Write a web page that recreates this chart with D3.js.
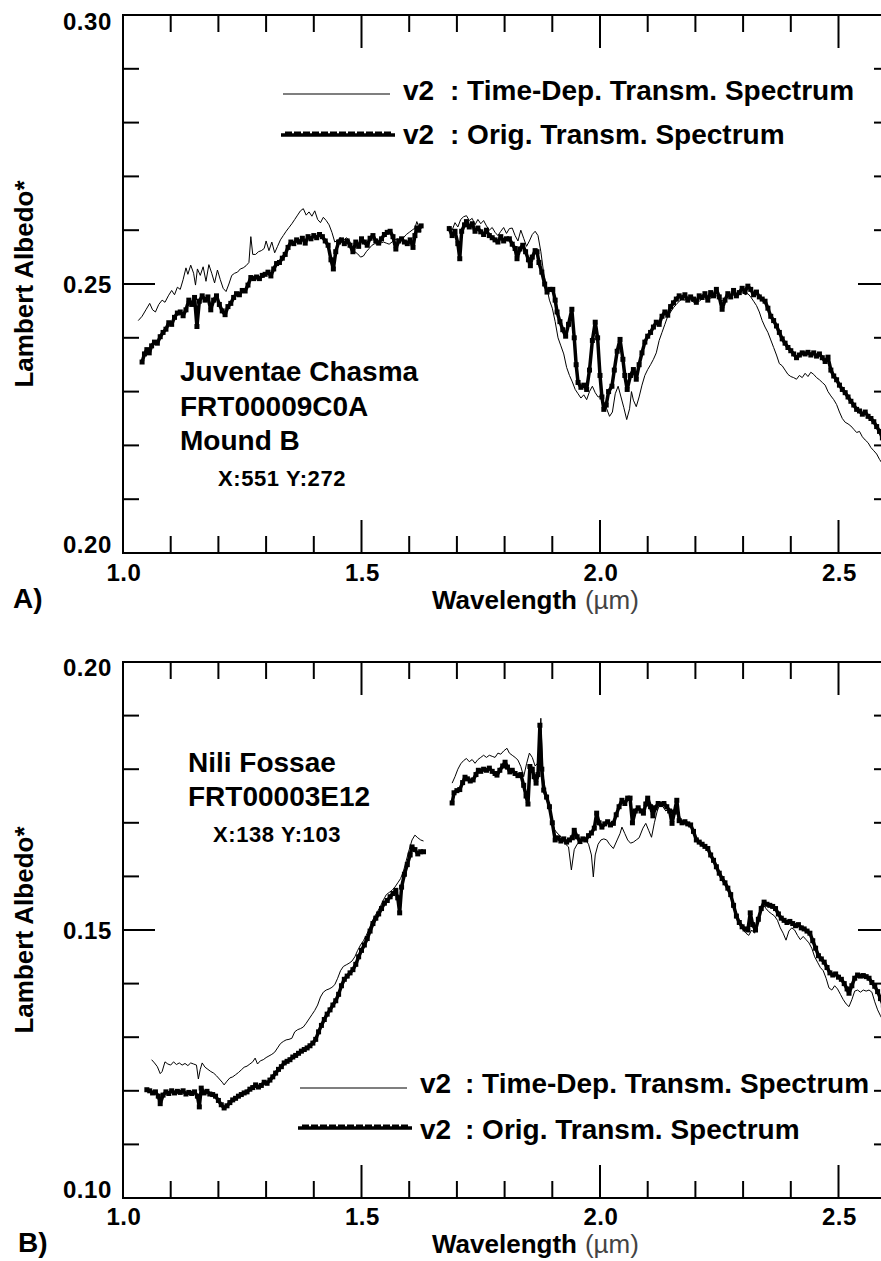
<!DOCTYPE html>
<html>
<head>
<meta charset="utf-8">
<script src="https://cdn.jsdelivr.net/npm/d3@7"></script>
<style>
  html, body { margin: 0; padding: 0; background: #fff; }
  svg { display: block; font-family: "Liberation Sans", Arial, Helvetica, sans-serif; }
  .lbl { font-weight: bold; fill: #000; }
</style>
</head>
<body>
<svg id="chart" width="881" height="1261"></svg>
<script>
// CRISM spectra, two panels. Each series is split at the detector gap (~1.65-1.68 um).
// Values are [wavelength (um), Lambert albedo].

const origA1 = [[1.040,0.2355],[1.045,0.2370],[1.050,0.2378],[1.055,0.2372],[1.060,0.2385],[1.066,0.2392],[1.072,0.2390],[1.078,0.2402],[1.084,0.2410],[1.090,0.2416],[1.096,0.2428],[1.102,0.2425],[1.108,0.2438],[1.114,0.2446],[1.120,0.2448],[1.126,0.2441],[1.132,0.2452],[1.138,0.2470],[1.144,0.2462],[1.150,0.2475],[1.155,0.2421],[1.160,0.2468],[1.166,0.2478],[1.172,0.2470],[1.178,0.2476],[1.184,0.2452],[1.190,0.2470],[1.196,0.2478],[1.202,0.2462],[1.208,0.2450],[1.214,0.2443],[1.220,0.2458],[1.226,0.2464],[1.232,0.2475],[1.238,0.2482],[1.244,0.2480],[1.250,0.2488],[1.256,0.2487],[1.262,0.2498],[1.268,0.2512],[1.274,0.2510],[1.280,0.2513],[1.286,0.2510],[1.292,0.2516],[1.298,0.2518],[1.304,0.2522],[1.310,0.2515],[1.316,0.2528],[1.322,0.2538],[1.328,0.2540],[1.334,0.2548],[1.340,0.2555],[1.346,0.2568],[1.352,0.2578],[1.358,0.2575],[1.364,0.2582],[1.370,0.2578],[1.376,0.2585],[1.382,0.2576],[1.388,0.2588],[1.394,0.2584],[1.400,0.2590],[1.406,0.2586],[1.412,0.2592],[1.418,0.2588],[1.424,0.2580],[1.430,0.2572],[1.436,0.2545],[1.441,0.2528],[1.446,0.2560],[1.452,0.2578],[1.458,0.2582],[1.464,0.2575],[1.470,0.2580],[1.476,0.2572],[1.482,0.2560],[1.488,0.2578],[1.494,0.2570],[1.500,0.2584],[1.506,0.2578],[1.512,0.2572],[1.518,0.2585],[1.524,0.2590],[1.530,0.2580],[1.536,0.2576],[1.542,0.2584],[1.548,0.2592],[1.554,0.2596],[1.560,0.2598],[1.566,0.2588],[1.572,0.2565],[1.578,0.2580],[1.584,0.2584],[1.590,0.2578],[1.596,0.2575],[1.602,0.2582],[1.608,0.2568],[1.612,0.2590],[1.616,0.2604],[1.620,0.2600],[1.625,0.2608]];
const origA2 = [[1.684,0.2603],[1.690,0.2590],[1.696,0.2598],[1.702,0.2575],[1.706,0.2547],[1.710,0.2598],[1.716,0.2610],[1.720,0.2616],[1.726,0.2606],[1.732,0.2612],[1.738,0.2598],[1.744,0.2604],[1.750,0.2597],[1.756,0.2592],[1.762,0.2600],[1.768,0.2590],[1.774,0.2586],[1.780,0.2582],[1.786,0.2578],[1.792,0.2588],[1.798,0.2580],[1.804,0.2584],[1.810,0.2584],[1.816,0.2574],[1.822,0.2566],[1.826,0.2547],[1.832,0.2565],[1.838,0.2572],[1.844,0.2560],[1.850,0.2545],[1.854,0.2534],[1.858,0.2550],[1.864,0.2562],[1.868,0.2560],[1.872,0.2540],[1.878,0.2522],[1.884,0.2500],[1.889,0.2485],[1.895,0.2490],[1.901,0.2490],[1.906,0.2470],[1.910,0.2448],[1.916,0.2430],[1.922,0.2415],[1.928,0.2403],[1.934,0.2425],[1.941,0.2453],[1.946,0.2400],[1.950,0.2350],[1.954,0.2317],[1.960,0.2308],[1.966,0.2312],[1.972,0.2304],[1.978,0.2340],[1.984,0.2395],[1.990,0.2429],[1.995,0.2400],[2.000,0.2330],[2.004,0.2290],[2.008,0.2267],[2.013,0.2275],[2.018,0.2300],[2.025,0.2310],[2.030,0.2340],[2.036,0.2375],[2.042,0.2397],[2.048,0.2360],[2.052,0.2330],[2.057,0.2304],[2.064,0.2330],[2.070,0.2341],[2.076,0.2323],[2.082,0.2350],[2.088,0.2372],[2.094,0.2392],[2.100,0.2403],[2.106,0.2410],[2.112,0.2420],[2.118,0.2429],[2.124,0.2425],[2.130,0.2440],[2.136,0.2448],[2.142,0.2442],[2.148,0.2458],[2.154,0.2465],[2.160,0.2472],[2.166,0.2478],[2.172,0.2474],[2.178,0.2480],[2.184,0.2470],[2.190,0.2476],[2.196,0.2472],[2.202,0.2466],[2.208,0.2478],[2.214,0.2475],[2.220,0.2482],[2.226,0.2470],[2.232,0.2484],[2.238,0.2478],[2.244,0.2490],[2.250,0.2476],[2.256,0.2453],[2.262,0.2470],[2.268,0.2482],[2.274,0.2476],[2.280,0.2488],[2.286,0.2478],[2.292,0.2484],[2.298,0.2492],[2.304,0.2486],[2.310,0.2496],[2.316,0.2490],[2.322,0.2480],[2.328,0.2485],[2.334,0.2476],[2.340,0.2472],[2.346,0.2468],[2.352,0.2455],[2.358,0.2440],[2.364,0.2432],[2.370,0.2422],[2.376,0.2410],[2.382,0.2398],[2.388,0.2390],[2.394,0.2382],[2.400,0.2376],[2.406,0.2370],[2.412,0.2363],[2.418,0.2368],[2.424,0.2372],[2.430,0.2370],[2.436,0.2373],[2.442,0.2368],[2.448,0.2372],[2.454,0.2366],[2.460,0.2370],[2.466,0.2363],[2.472,0.2356],[2.478,0.2364],[2.484,0.2340],[2.490,0.2329],[2.496,0.2322],[2.502,0.2312],[2.508,0.2304],[2.514,0.2298],[2.520,0.2290],[2.526,0.2282],[2.532,0.2275],[2.538,0.2267],[2.544,0.2264],[2.550,0.2258],[2.556,0.2262],[2.562,0.2254],[2.568,0.2250],[2.574,0.2244],[2.580,0.2235],[2.586,0.2226],[2.592,0.2214],[2.598,0.2205]];

const timeDepA1 = [[1.032,0.2432],[1.040,0.2440],[1.048,0.2452],[1.056,0.2464],[1.062,0.2452],[1.068,0.2448],[1.075,0.2462],[1.082,0.2470],[1.088,0.2466],[1.095,0.2478],[1.102,0.2488],[1.108,0.2480],[1.114,0.2494],[1.120,0.2490],[1.126,0.2508],[1.132,0.2530],[1.136,0.2518],[1.142,0.2535],[1.148,0.2520],[1.152,0.2498],[1.156,0.2528],[1.162,0.2516],[1.168,0.2532],[1.174,0.2505],[1.180,0.2536],[1.186,0.2520],[1.192,0.2502],[1.198,0.2526],[1.204,0.2508],[1.210,0.2492],[1.216,0.2486],[1.222,0.2500],[1.228,0.2516],[1.234,0.2520],[1.240,0.2522],[1.246,0.2528],[1.252,0.2530],[1.258,0.2534],[1.264,0.2540],[1.268,0.2588],[1.272,0.2555],[1.278,0.2555],[1.284,0.2560],[1.290,0.2562],[1.296,0.2566],[1.300,0.2580],[1.306,0.2562],[1.312,0.2578],[1.318,0.2558],[1.324,0.2570],[1.330,0.2582],[1.336,0.2590],[1.342,0.2598],[1.348,0.2605],[1.354,0.2612],[1.360,0.2620],[1.366,0.2628],[1.372,0.2636],[1.378,0.2640],[1.384,0.2628],[1.390,0.2634],[1.396,0.2626],[1.402,0.2636],[1.408,0.2620],[1.414,0.2614],[1.420,0.2624],[1.426,0.2618],[1.432,0.2610],[1.438,0.2596],[1.444,0.2578],[1.450,0.2582],[1.456,0.2586],[1.462,0.2580],[1.468,0.2586],[1.474,0.2582],[1.480,0.2570],[1.486,0.2560],[1.492,0.2556],[1.498,0.2550],[1.504,0.2552],[1.510,0.2560],[1.516,0.2566],[1.522,0.2572],[1.528,0.2575],[1.534,0.2574],[1.540,0.2576],[1.546,0.2578],[1.552,0.2576],[1.558,0.2574],[1.564,0.2578],[1.570,0.2582],[1.576,0.2584],[1.582,0.2580],[1.588,0.2586],[1.594,0.2592],[1.600,0.2596],[1.606,0.2600],[1.612,0.2604],[1.616,0.2616],[1.620,0.2606],[1.625,0.2598]];
const timeDepA2 = [[1.684,0.2608],[1.690,0.2600],[1.696,0.2614],[1.702,0.2606],[1.708,0.2620],[1.714,0.2625],[1.720,0.2627],[1.726,0.2618],[1.732,0.2622],[1.738,0.2610],[1.744,0.2620],[1.750,0.2612],[1.756,0.2618],[1.762,0.2608],[1.768,0.2600],[1.774,0.2605],[1.780,0.2596],[1.786,0.2590],[1.792,0.2598],[1.798,0.2605],[1.804,0.2594],[1.810,0.2603],[1.816,0.2604],[1.822,0.2590],[1.828,0.2580],[1.834,0.2600],[1.840,0.2585],[1.846,0.2570],[1.852,0.2580],[1.858,0.2592],[1.864,0.2598],[1.870,0.2590],[1.876,0.2560],[1.882,0.2520],[1.888,0.2495],[1.894,0.2470],[1.900,0.2455],[1.906,0.2430],[1.912,0.2400],[1.918,0.2385],[1.924,0.2370],[1.930,0.2345],[1.936,0.2330],[1.942,0.2318],[1.948,0.2304],[1.954,0.2296],[1.960,0.2288],[1.966,0.2294],[1.972,0.2285],[1.978,0.2300],[1.984,0.2310],[1.990,0.2298],[1.996,0.2290],[2.002,0.2291],[2.008,0.2280],[2.014,0.2268],[2.020,0.2254],[2.026,0.2262],[2.032,0.2296],[2.038,0.2310],[2.044,0.2290],[2.050,0.2270],[2.056,0.2248],[2.062,0.2268],[2.066,0.2300],[2.070,0.2284],[2.076,0.2272],[2.082,0.2290],[2.088,0.2312],[2.094,0.2330],[2.100,0.2341],[2.106,0.2350],[2.112,0.2360],[2.118,0.2372],[2.124,0.2395],[2.130,0.2410],[2.136,0.2425],[2.142,0.2440],[2.148,0.2448],[2.154,0.2456],[2.160,0.2462],[2.166,0.2468],[2.172,0.2472],[2.178,0.2470],[2.184,0.2474],[2.190,0.2470],[2.196,0.2466],[2.202,0.2470],[2.208,0.2468],[2.214,0.2472],[2.220,0.2476],[2.226,0.2470],[2.232,0.2474],[2.238,0.2476],[2.244,0.2478],[2.250,0.2474],[2.256,0.2468],[2.262,0.2474],[2.268,0.2478],[2.274,0.2472],[2.280,0.2480],[2.286,0.2476],[2.292,0.2484],[2.298,0.2486],[2.304,0.2480],[2.310,0.2482],[2.316,0.2476],[2.322,0.2468],[2.328,0.2460],[2.334,0.2448],[2.340,0.2432],[2.346,0.2420],[2.352,0.2410],[2.358,0.2396],[2.364,0.2382],[2.370,0.2368],[2.376,0.2352],[2.382,0.2348],[2.388,0.2340],[2.394,0.2332],[2.400,0.2328],[2.406,0.2326],[2.412,0.2323],[2.418,0.2330],[2.424,0.2326],[2.430,0.2334],[2.436,0.2328],[2.442,0.2336],[2.448,0.2332],[2.454,0.2326],[2.460,0.2322],[2.466,0.2317],[2.472,0.2312],[2.478,0.2300],[2.484,0.2292],[2.490,0.2285],[2.496,0.2276],[2.502,0.2262],[2.508,0.2250],[2.514,0.2243],[2.520,0.2240],[2.526,0.2236],[2.532,0.2230],[2.538,0.2224],[2.544,0.2226],[2.550,0.2216],[2.556,0.2210],[2.562,0.2205],[2.568,0.2196],[2.574,0.2190],[2.580,0.2184],[2.586,0.2174],[2.592,0.2166],[2.598,0.2160]];

const origB1 = [[1.050,0.1202],[1.056,0.1200],[1.062,0.1196],[1.068,0.1198],[1.074,0.1190],[1.078,0.1176],[1.084,0.1192],[1.090,0.1198],[1.096,0.1195],[1.102,0.1200],[1.108,0.1196],[1.114,0.1199],[1.120,0.1197],[1.126,0.1200],[1.132,0.1194],[1.138,0.1197],[1.144,0.1195],[1.150,0.1198],[1.156,0.1190],[1.160,0.1170],[1.164,0.1205],[1.170,0.1196],[1.176,0.1199],[1.182,0.1194],[1.188,0.1193],[1.194,0.1190],[1.200,0.1182],[1.206,0.1174],[1.212,0.1168],[1.218,0.1172],[1.224,0.1178],[1.230,0.1183],[1.236,0.1186],[1.242,0.1190],[1.248,0.1193],[1.254,0.1196],[1.260,0.1198],[1.266,0.1203],[1.272,0.1206],[1.278,0.1211],[1.284,0.1207],[1.290,0.1210],[1.296,0.1216],[1.302,0.1214],[1.308,0.1220],[1.314,0.1226],[1.320,0.1233],[1.326,0.1240],[1.332,0.1245],[1.338,0.1252],[1.344,0.1255],[1.350,0.1258],[1.356,0.1263],[1.362,0.1266],[1.368,0.1270],[1.374,0.1274],[1.380,0.1277],[1.386,0.1280],[1.392,0.1284],[1.398,0.1289],[1.404,0.1296],[1.410,0.1310],[1.416,0.1322],[1.422,0.1333],[1.428,0.1343],[1.434,0.1351],[1.440,0.1360],[1.446,0.1368],[1.452,0.1380],[1.458,0.1396],[1.464,0.1408],[1.470,0.1414],[1.476,0.1420],[1.482,0.1426],[1.488,0.1436],[1.494,0.1450],[1.500,0.1462],[1.506,0.1472],[1.512,0.1484],[1.518,0.1498],[1.524,0.1512],[1.530,0.1522],[1.536,0.1530],[1.542,0.1540],[1.548,0.1550],[1.554,0.1555],[1.560,0.1562],[1.566,0.1568],[1.572,0.1574],[1.576,0.1560],[1.580,0.1532],[1.584,0.1580],[1.590,0.1604],[1.596,0.1622],[1.602,0.1640],[1.606,0.1655],[1.612,0.1650],[1.618,0.1642],[1.624,0.1646],[1.630,0.1646]];
const origB2 = [[1.690,0.1737],[1.694,0.1756],[1.700,0.1760],[1.706,0.1762],[1.712,0.1775],[1.717,0.1785],[1.722,0.1782],[1.728,0.1778],[1.734,0.1780],[1.740,0.1790],[1.745,0.1798],[1.750,0.1796],[1.756,0.1800],[1.762,0.1798],[1.768,0.1802],[1.774,0.1796],[1.780,0.1792],[1.784,0.1789],[1.790,0.1798],[1.796,0.1806],[1.801,0.1813],[1.806,0.1804],[1.811,0.1795],[1.816,0.1798],[1.822,0.1792],[1.828,0.1788],[1.834,0.1790],[1.840,0.1770],[1.845,0.1750],[1.849,0.1735],[1.853,0.1805],[1.858,0.1800],[1.862,0.1786],[1.866,0.1774],[1.870,0.1790],[1.874,0.1882],[1.878,0.1800],[1.882,0.1761],[1.888,0.1748],[1.894,0.1730],[1.900,0.1700],[1.906,0.1668],[1.912,0.1672],[1.918,0.1666],[1.924,0.1670],[1.930,0.1664],[1.936,0.1668],[1.942,0.1672],[1.946,0.1686],[1.952,0.1674],[1.958,0.1665],[1.964,0.1670],[1.970,0.1668],[1.976,0.1676],[1.982,0.1681],[1.988,0.1690],[1.993,0.1718],[1.998,0.1700],[2.004,0.1692],[2.010,0.1698],[2.016,0.1702],[2.022,0.1696],[2.028,0.1699],[2.034,0.1715],[2.040,0.1730],[2.046,0.1742],[2.052,0.1736],[2.058,0.1746],[2.063,0.1746],[2.068,0.1700],[2.074,0.1722],[2.080,0.1728],[2.086,0.1722],[2.091,0.1718],[2.096,0.1735],[2.100,0.1746],[2.106,0.1730],[2.111,0.1713],[2.116,0.1728],[2.122,0.1736],[2.128,0.1734],[2.134,0.1736],[2.140,0.1730],[2.146,0.1722],[2.151,0.1699],[2.156,0.1720],[2.161,0.1742],[2.166,0.1704],[2.172,0.1700],[2.178,0.1702],[2.184,0.1698],[2.190,0.1696],[2.196,0.1684],[2.202,0.1668],[2.208,0.1664],[2.214,0.1660],[2.220,0.1656],[2.226,0.1652],[2.232,0.1640],[2.238,0.1630],[2.244,0.1618],[2.250,0.1606],[2.256,0.1596],[2.262,0.1588],[2.268,0.1578],[2.274,0.1566],[2.280,0.1546],[2.286,0.1526],[2.292,0.1514],[2.298,0.1506],[2.304,0.1502],[2.310,0.1500],[2.315,0.1532],[2.320,0.1510],[2.326,0.1500],[2.332,0.1520],[2.338,0.1540],[2.344,0.1552],[2.350,0.1548],[2.356,0.1546],[2.362,0.1544],[2.368,0.1540],[2.374,0.1530],[2.380,0.1522],[2.386,0.1518],[2.392,0.1514],[2.398,0.1516],[2.404,0.1512],[2.410,0.1508],[2.416,0.1510],[2.422,0.1504],[2.428,0.1502],[2.434,0.1498],[2.440,0.1494],[2.446,0.1480],[2.452,0.1466],[2.458,0.1452],[2.464,0.1446],[2.470,0.1440],[2.476,0.1430],[2.482,0.1420],[2.488,0.1416],[2.494,0.1418],[2.500,0.1412],[2.506,0.1408],[2.512,0.1400],[2.518,0.1390],[2.522,0.1382],[2.528,0.1396],[2.534,0.1410],[2.540,0.1416],[2.546,0.1414],[2.552,0.1415],[2.558,0.1413],[2.564,0.1410],[2.570,0.1402],[2.576,0.1395],[2.582,0.1385],[2.588,0.1372],[2.594,0.1360],[2.600,0.1352]];

const timeDepB1 = [[1.060,0.1258],[1.066,0.1252],[1.072,0.1245],[1.078,0.1232],[1.082,0.1236],[1.088,0.1254],[1.094,0.1250],[1.100,0.1248],[1.106,0.1254],[1.112,0.1249],[1.118,0.1252],[1.124,0.1248],[1.130,0.1251],[1.136,0.1247],[1.142,0.1252],[1.148,0.1250],[1.154,0.1248],[1.158,0.1222],[1.162,0.1240],[1.166,0.1252],[1.172,0.1244],[1.178,0.1240],[1.184,0.1236],[1.190,0.1233],[1.196,0.1228],[1.202,0.1222],[1.208,0.1216],[1.212,0.1211],[1.218,0.1218],[1.224,0.1224],[1.230,0.1226],[1.236,0.1230],[1.242,0.1234],[1.248,0.1239],[1.254,0.1244],[1.260,0.1246],[1.266,0.1250],[1.272,0.1254],[1.277,0.1261],[1.282,0.1250],[1.288,0.1256],[1.294,0.1258],[1.300,0.1262],[1.306,0.1265],[1.312,0.1268],[1.318,0.1272],[1.324,0.1280],[1.330,0.1288],[1.336,0.1292],[1.342,0.1295],[1.348,0.1296],[1.354,0.1298],[1.360,0.1310],[1.366,0.1314],[1.372,0.1316],[1.378,0.1319],[1.384,0.1326],[1.390,0.1334],[1.396,0.1342],[1.402,0.1350],[1.408,0.1360],[1.414,0.1375],[1.420,0.1384],[1.426,0.1388],[1.432,0.1390],[1.438,0.1393],[1.444,0.1398],[1.450,0.1410],[1.456,0.1424],[1.462,0.1432],[1.468,0.1435],[1.474,0.1438],[1.480,0.1442],[1.486,0.1450],[1.492,0.1462],[1.498,0.1472],[1.504,0.1480],[1.510,0.1490],[1.516,0.1502],[1.522,0.1516],[1.528,0.1526],[1.534,0.1535],[1.540,0.1545],[1.546,0.1556],[1.552,0.1566],[1.558,0.1570],[1.564,0.1574],[1.570,0.1580],[1.576,0.1588],[1.582,0.1596],[1.588,0.1610],[1.594,0.1630],[1.600,0.1650],[1.606,0.1668],[1.612,0.1677],[1.618,0.1672],[1.624,0.1668],[1.630,0.1666]];
const timeDepB2 = [[1.690,0.1774],[1.696,0.1786],[1.702,0.1800],[1.708,0.1810],[1.714,0.1816],[1.720,0.1820],[1.726,0.1814],[1.732,0.1818],[1.738,0.1811],[1.744,0.1818],[1.750,0.1822],[1.756,0.1826],[1.762,0.1822],[1.768,0.1826],[1.774,0.1824],[1.780,0.1822],[1.786,0.1830],[1.792,0.1828],[1.798,0.1834],[1.805,0.1839],[1.810,0.1830],[1.816,0.1826],[1.822,0.1822],[1.828,0.1817],[1.834,0.1805],[1.840,0.1786],[1.846,0.1810],[1.852,0.1830],[1.858,0.1822],[1.864,0.1806],[1.870,0.1812],[1.876,0.1895],[1.880,0.1790],[1.886,0.1760],[1.892,0.1740],[1.898,0.1712],[1.904,0.1688],[1.910,0.1681],[1.916,0.1676],[1.922,0.1668],[1.928,0.1660],[1.934,0.1655],[1.940,0.1612],[1.946,0.1650],[1.952,0.1660],[1.958,0.1664],[1.964,0.1670],[1.970,0.1668],[1.976,0.1660],[1.982,0.1640],[1.986,0.1599],[1.990,0.1640],[1.996,0.1660],[2.002,0.1668],[2.008,0.1670],[2.014,0.1668],[2.020,0.1660],[2.028,0.1652],[2.036,0.1668],[2.042,0.1680],[2.046,0.1692],[2.052,0.1680],[2.058,0.1668],[2.064,0.1662],[2.070,0.1664],[2.076,0.1668],[2.082,0.1672],[2.090,0.1690],[2.096,0.1699],[2.102,0.1686],[2.108,0.1673],[2.114,0.1700],[2.120,0.1722],[2.126,0.1736],[2.132,0.1730],[2.138,0.1722],[2.144,0.1726],[2.150,0.1714],[2.156,0.1716],[2.162,0.1722],[2.168,0.1710],[2.174,0.1700],[2.180,0.1696],[2.186,0.1694],[2.192,0.1690],[2.198,0.1680],[2.204,0.1670],[2.210,0.1664],[2.216,0.1660],[2.222,0.1654],[2.228,0.1648],[2.234,0.1636],[2.240,0.1626],[2.246,0.1614],[2.252,0.1602],[2.258,0.1592],[2.264,0.1582],[2.270,0.1570],[2.276,0.1556],[2.282,0.1540],[2.288,0.1522],[2.294,0.1510],[2.300,0.1500],[2.306,0.1494],[2.312,0.1490],[2.318,0.1500],[2.324,0.1494],[2.330,0.1512],[2.336,0.1530],[2.342,0.1548],[2.348,0.1540],[2.354,0.1534],[2.360,0.1530],[2.366,0.1526],[2.372,0.1518],[2.378,0.1504],[2.384,0.1494],[2.390,0.1481],[2.396,0.1498],[2.402,0.1504],[2.408,0.1500],[2.414,0.1490],[2.420,0.1482],[2.426,0.1488],[2.432,0.1482],[2.438,0.1476],[2.444,0.1466],[2.450,0.1450],[2.456,0.1440],[2.462,0.1430],[2.468,0.1424],[2.474,0.1410],[2.480,0.1392],[2.486,0.1388],[2.492,0.1396],[2.498,0.1390],[2.504,0.1380],[2.510,0.1370],[2.516,0.1362],[2.522,0.1357],[2.528,0.1370],[2.534,0.1386],[2.540,0.1388],[2.546,0.1384],[2.552,0.1388],[2.558,0.1386],[2.564,0.1388],[2.570,0.1384],[2.576,0.1366],[2.582,0.1351],[2.588,0.1340],[2.594,0.1330],[2.600,0.1320]];

// axis ticks / labels
const xTickLabels = [1.0, 1.5, 2.0, 2.5];
const xMinorStep = 0.1;
const yTickLabelsA = [0.20, 0.25, 0.30];
const yTickLabelsB = [0.10, 0.15, 0.20];
const legendNames = ["Time-Dep. Transm. Spectrum", "Orig. Transm. Spectrum"];
const siteA = ["Juventae Chasma", "FRT00009C0A", "Mound B"];
const pixelA = "X:551 Y:272";
const siteB = ["Nili Fossae", "FRT00003E12"];
const pixelB = "X:138 Y:103";

const svg = d3.select("#chart");
const FONT_BIG = 28;
const FONT_TICK = 24;

function drawPanel(p) {
  const x = d3.scaleLinear().domain([1.0, 2.6]).range([123, 886.2]);
  const y = d3.scaleLinear().domain(p.yDomain).range([p.bottom, p.top]);
  const g = svg.append("g");
  const xRight = 890;

  const line = d3.line().x(d => x(d[0])).y(d => y(d[1]));

  // thin: time-dependent transmission
  p.thin.forEach(seg => {
    g.append("path").datum(seg).attr("d", line)
      .attr("fill", "none").attr("stroke", "#000").attr("stroke-width", 1)
      .attr("stroke-linejoin", "round");
  });
  // thick + markers: original transmission
  p.thick.forEach(seg => {
    g.append("path").datum(seg).attr("d", line)
      .attr("fill", "none").attr("stroke", "#000").attr("stroke-width", 3.5)
      .attr("stroke-linejoin", "round");
    g.selectAll(null).data(seg).enter().append("rect")
      .attr("x", d => x(d[0]) - 2.5).attr("y", d => y(d[1]) - 2.5)
      .attr("width", 5).attr("height", 5).attr("fill", "#000");
  });

  // frame
  const frame = g.append("g");
  const seg = (x1, y1, x2, y2) => frame.append("line")
    .attr("x1", x1).attr("y1", y1).attr("x2", x2).attr("y2", y2)
    .attr("stroke", "#000").attr("stroke-width", 2);
  seg(123, p.top, xRight, p.top);
  seg(123, p.bottom, xRight, p.bottom);
  seg(123, p.top - 1, 123, p.bottom + 1);
  seg(xRight, p.top, xRight, p.bottom);

  // x ticks every 0.1
  const xt = d3.range(11, 26).map(i => i * xMinorStep);
  xt.forEach(v => {
    const major = Math.abs(v * 2 - Math.round(v * 2)) < 1e-6;
    const L = major ? 33 : 17;
    seg(x(v), p.top, x(v), p.top + L);
    seg(x(v), p.bottom, x(v), p.bottom - L);
  });
  // y ticks every 0.01
  const [y0] = p.yDomain;
  const yt = d3.range(1, 10).map(i => y0 + i * 0.01);
  yt.forEach((v, i) => {
    const major = i === 4;
    const L = major ? 32 : 16;
    seg(123, y(v), 123 + L, y(v));
    seg(xRight, y(v), xRight - L, y(v));
  });

  // tick labels
  p.yLabels.forEach((v, i) => {
    const dy = [0, 9, p.topLabelDy][i];
    g.append("text").attr("class", "lbl")
      .attr("x", 112).attr("y", y(v) + dy)
      .attr("text-anchor", "end").attr("font-size", FONT_TICK)
      .attr("letter-spacing", 0.6)
      .text(v.toFixed(2));
  });
  xTickLabels.forEach(v => {
    g.append("text").attr("class", "lbl")
      .attr("x", x(v) + 1).attr("y", p.bottom + p.xTickDy)
      .attr("text-anchor", "middle").attr("font-size", FONT_TICK)
      .attr("letter-spacing", 0.6)
      .text(v.toFixed(1));
  });

  // axis titles
  const xt2 = g.append("text").attr("x", 432).attr("y", p.xTitleY)
    .attr("font-size", 26);
  xt2.append("tspan").attr("font-weight", "bold").text("Wavelength");
  xt2.append("tspan").attr("dx", 8).attr("fill", "#444").text("(\u00b5m)");

  g.append("text").attr("class", "lbl")
    .attr("transform", `translate(33,${(p.top + p.bottom) / 2}) rotate(-90)`)
    .attr("text-anchor", "middle").attr("font-size", 26)
    .text("Lambert Albedo*");

  g.append("text").attr("class", "lbl")
    .attr("x", p.tagX).attr("y", p.tagY).attr("font-size", FONT_BIG)
    .text(p.tag);

  // site annotation
  p.site.forEach((s, i) => {
    g.append("text").attr("class", "lbl")
      .attr("x", p.siteX).attr("y", p.siteY + i * p.siteStep)
      .attr("font-size", FONT_BIG).text(s);
  });
  g.append("text").attr("class", "lbl")
    .attr("x", p.pixX).attr("y", p.pixY).attr("font-size", 22)
    .attr("letter-spacing", 0.6).text(p.pixel);

  // legend
  const lg = g.append("g");
  legendNames.forEach((name, i) => {
    const ly = p.legY[i];
    if (i === 0) {
      lg.append("line").attr("x1", p.legX0).attr("x2", p.legX0 + 107)
        .attr("y1", ly).attr("y2", ly).attr("stroke", "#555").attr("stroke-width", 1.4);
    } else {
      lg.append("line").attr("x1", p.legX0 - 2).attr("x2", p.legX0 + 112)
        .attr("y1", ly + 1).attr("y2", ly + 1).attr("stroke", "#000").attr("stroke-width", 3.5);
      lg.selectAll(null).data(d3.range(0, 12)).enter().append("rect")
        .attr("x", k => p.legX0 + 2 + k * 9).attr("y", ly - 2.5)
        .attr("width", 7).attr("height", 2.5).attr("fill", "#000");
    }
    lg.append("text").attr("class", "lbl").attr("x", p.legX0 + 120)
      .attr("y", p.legTextY[i]).attr("font-size", FONT_BIG).text("v2");
    lg.append("text").attr("class", "lbl").attr("x", p.legColX)
      .attr("y", p.legTextY[i]).attr("font-size", FONT_BIG)
      .text(": " + name);
  });
}

drawPanel({
  yDomain: [0.20, 0.30], top: 15, bottom: 553,
  yLabels: yTickLabelsA, topLabelDy: 15, xTickDy: 28,
  thin: [timeDepA1, timeDepA2], thick: [origA1, origA2],
  xTitleY: 609, tag: "A)", tagX: 13, tagY: 608,
  site: siteA, siteX: 180, siteY: 381, siteStep: 34.5,
  pixel: pixelA, pixX: 218, pixY: 486,
  legX0: 283, legY: [94, 134], legTextY: [100, 144], legColX: 450
});

drawPanel({
  yDomain: [0.10, 0.20], top: 662, bottom: 1198,
  yLabels: yTickLabelsB, topLabelDy: 14, xTickDy: 27,
  thin: [timeDepB1, timeDepB2], thick: [origB1, origB2],
  xTitleY: 1253, tag: "B)", tagX: 18, tagY: 1252,
  site: siteB, siteX: 188, siteY: 772, siteStep: 34,
  pixel: pixelB, pixX: 213, pixY: 842,
  legX0: 300, legY: [1088, 1127], legTextY: [1093, 1139], legColX: 465
});
</script>
</body>
</html>
